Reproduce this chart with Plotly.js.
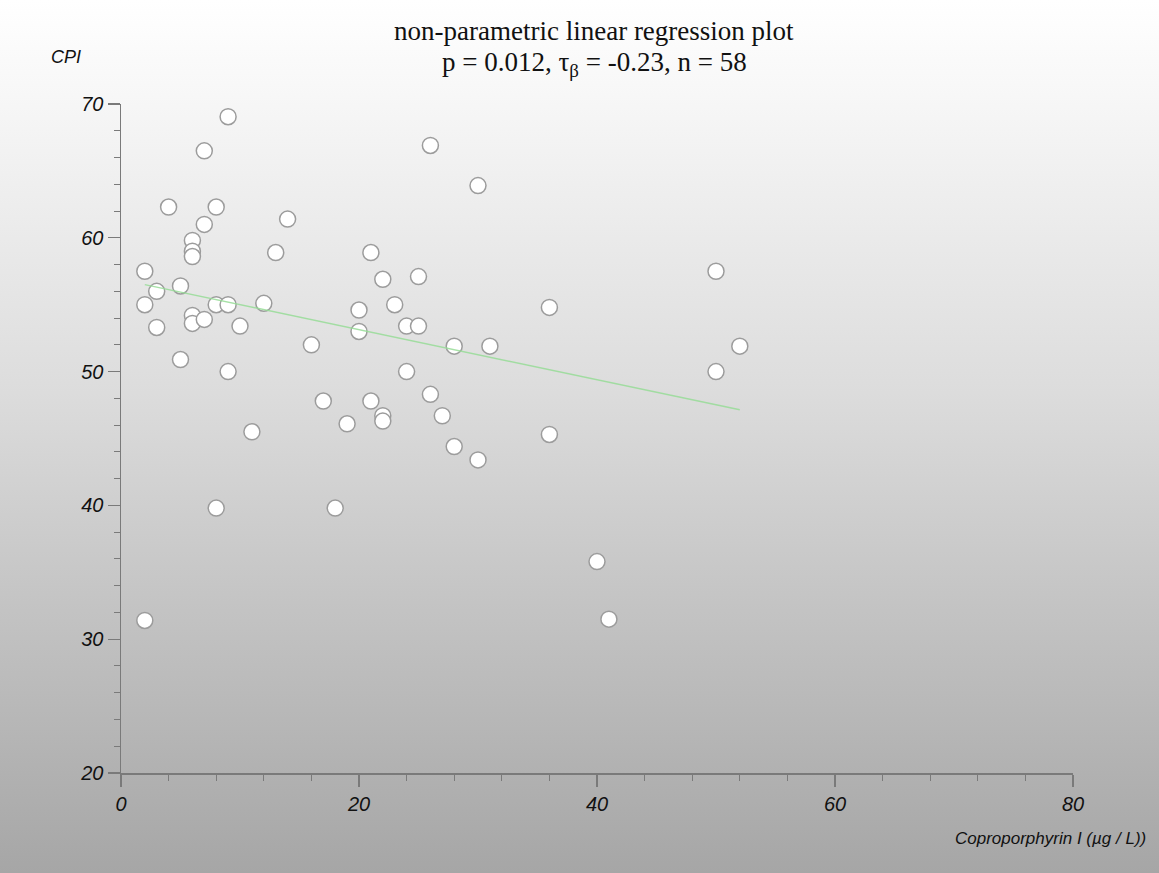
<!DOCTYPE html>
<html>
<head>
<meta charset="utf-8">
<script src="https://cdn.plot.ly/plotly-3.0.1.min.js"></script>
<style>
  html, body { margin:0; padding:0; }
  body { width:1159px; height:873px; background: linear-gradient(to bottom, #ffffff 0%, #f7f7f7 11%, #dcdcdc 45%, #c3c3c3 70%, #a6a6a6 100%); }
  #chart { width:1159px; height:873px; }
</style>
</head>
<body>
<div id="chart"></div>
<script>
// Coproporphyrin I (µg / L)
const copro = [2, 2, 2, 3, 3, 4, 5, 5, 6, 6, 6, 6, 6, 7, 7, 7, 8, 8, 8, 9, 9, 9, 10, 11, 12, 13, 14, 16, 17, 18,
               19, 20, 20, 21, 21, 22, 22, 22, 23, 24, 24, 25, 25, 26, 26, 27, 28, 28, 30, 30, 31, 36, 36, 40, 41, 50, 50, 52];
// CPI
const cpi = [57.5, 55.0, 31.4, 56.0, 53.3, 62.3, 56.4, 50.9, 59.8, 59.0, 58.6, 54.2, 53.6, 66.5, 61.0, 53.9, 62.3, 55.0, 39.8, 69.05, 55.0, 50.0, 53.4, 45.5, 55.1, 58.9, 61.4, 52.0, 47.8, 39.8,
             46.1, 54.6, 53.0, 58.9, 47.8, 56.9, 46.7, 46.3, 55.0, 53.4, 50.0, 57.1, 53.4, 66.9, 48.3, 46.7, 51.9, 44.4, 63.9, 43.4, 51.9, 54.8, 45.3, 35.8, 31.5, 57.5, 50.0, 51.9];
// regression line end points
const fitX = [2, 52];
const fitY = [56.5, 47.15];

const xTickVals = [0, 20, 40, 60, 80];
const yTickVals = [20, 30, 40, 50, 60, 70];

const titleLine1 = 'non-parametric linear regression plot';
const titleLine2 = 'p = 0.012, τ<sub>β</sub> = -0.23, n = 58';

const axisColor = '#7a7a7a';
const tickFont = {family: 'Liberation Sans, Arial', size: 20, color: '#111111', style: 'italic'};

const traces = [
  {
    x: copro, y: cpi, type: 'scatter', mode: 'markers',
    marker: {size: 16, color: '#ffffff', line: {color: '#9c9c9c', width: 1.5}},
    hoverinfo: 'x+y', showlegend: false
  },
  {
    x: fitX, y: fitY, type: 'scatter', mode: 'lines',
    line: {color: 'rgba(150,220,150,0.85)', width: 1.5},
    hoverinfo: 'skip', showlegend: false
  }
];

const layout = {
  width: 1159, height: 873,
  paper_bgcolor: 'rgba(0,0,0,0)', plot_bgcolor: 'rgba(0,0,0,0)',
  margin: {l: 121, r: 86, t: 104, b: 100},
  showlegend: false,
  xaxis: {
    range: [0, 80], tickvals: xTickVals, ticktext: xTickVals.map(String),
    showgrid: false, zeroline: false, showline: true, linecolor: axisColor, linewidth: 1.5,
    ticks: 'outside', ticklen: 12, tickwidth: 1.2, tickcolor: axisColor,
    minor: {dtick: 4, tick0: 0, ticks: 'outside', ticklen: 6, tickwidth: 1, tickcolor: axisColor, showgrid: false},
    tickfont: tickFont, fixedrange: true
  },
  yaxis: {
    range: [20, 70], tickvals: yTickVals, ticktext: yTickVals.map(String),
    showgrid: false, zeroline: false, showline: true, linecolor: axisColor, linewidth: 1.5,
    ticks: 'outside', ticklen: 12, tickwidth: 1.2, tickcolor: axisColor,
    minor: {dtick: 2, tick0: 20, ticks: 'outside', ticklen: 6, tickwidth: 1, tickcolor: axisColor, showgrid: false},
    tickfont: tickFont, fixedrange: true
  },
  annotations: [
    {
      text: titleLine1, xref: 'paper', yref: 'paper', x: 0.497, y: (773 - 31) / 669,
      xanchor: 'center', yanchor: 'middle', showarrow: false,
      font: {family: 'Liberation Serif, Times New Roman', size: 27, color: '#111'}
    },
    {
      text: titleLine2, xref: 'paper', yref: 'paper', x: 0.497, y: (773 - 64) / 669,
      xanchor: 'center', yanchor: 'middle', showarrow: false,
      font: {family: 'Liberation Serif, Times New Roman', size: 27, color: '#111'}
    },
    {
      text: 'CPI', xref: 'paper', yref: 'paper', x: -0.0578, y: (773 - 57) / 669,
      xanchor: 'center', yanchor: 'middle', showarrow: false,
      font: {family: 'Liberation Sans, Arial', size: 18, color: '#111111', style: 'italic'}
    },
    {
      text: 'Coproporphyrin I (µg / L))', xref: 'paper', yref: 'paper', x: 1.0788, y: (773 - 838) / 669,
      xanchor: 'right', yanchor: 'middle', showarrow: false,
      font: {family: 'Liberation Sans, Arial', size: 17, color: '#111111', style: 'italic'}
    }
  ]
};

Plotly.newPlot('chart', traces, layout, {displayModeBar: false, staticPlot: true});
</script>
</body>
</html>
